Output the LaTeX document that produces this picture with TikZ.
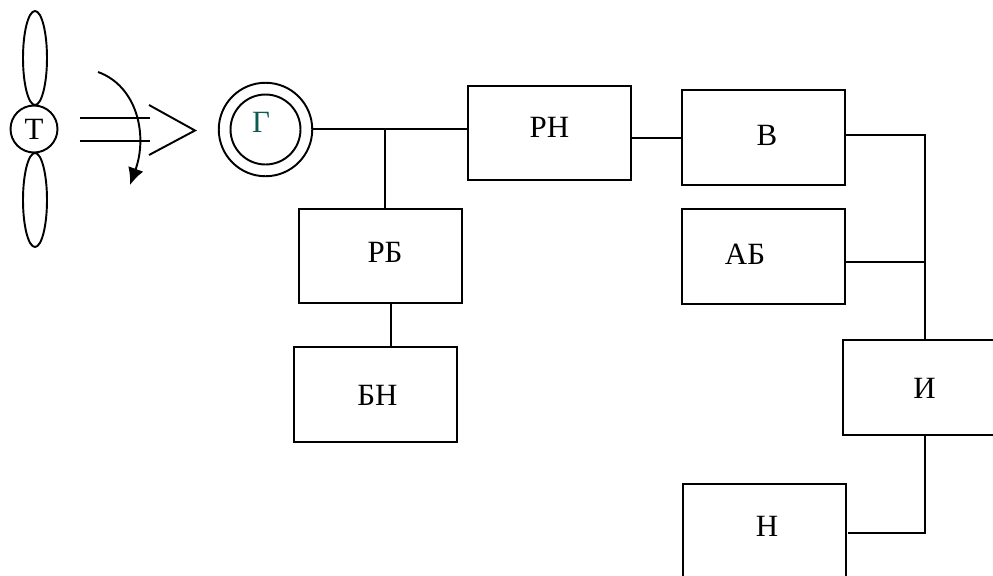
\documentclass[tikz,border=0pt]{standalone}
\usepackage{fontspec}
\setmainfont{Liberation Serif}
\usetikzlibrary{arrows.meta,positioning,calc,shapes.geometric}
\tikzset{>=latex}
\definecolor{gencol}{HTML}{0F5A50}

\begin{document}
\begin{tikzpicture}[x=0.02cm, y=-0.02cm, line width=1.1pt, on grid,
	font=\fontsize{17.6}{20}\selectfont,
	block/.style={draw, inner sep=0pt, minimum width=3.26cm, minimum height=1.89cm},
	blade/.style={draw, ellipse, inner sep=0pt, minimum width=0.48cm, minimum height=1.88cm},
	ring/.style={draw, circle, inner sep=0pt}]
	\path[use as bounding box, clip] (0,0) rectangle (993,575);

	\node[ring, minimum size=0.94cm] (t) at (34,129) {Т};
	\node[blade] (b1) [above right=1.42cm and 0.02cm of t] {};
	\node[blade] (b2) [below right=1.42cm and 0.02cm of t] {};
	\node[ring, minimum size=1.87cm] (g) at (265.5,129.5) {};
	\node[ring, minimum size=1.4cm, label={[xshift=-0.09cm,yshift=0.14cm,text=gencol]center:Г}] (g1) at (265.5,129.5) {};

	\node[block, label={[yshift=0.12cm]center:РН}] (rn) at (549.5,133) {};
	\node[block, label={[xshift=0.07cm,yshift=0.05cm]center:В}] (v) [below right=0.09cm and 4.28cm of rn] {};
	\node[block, label={[xshift=-0.37cm,yshift=0.05cm]center:АБ}] (ab) [below=2.38cm of v] {};
	\node[block, label={[xshift=0.09cm,yshift=0.08cm]center:РБ}] (rb) at (380.5,256) {};
	\node[block, label={[xshift=0.04cm,yshift=-0.02cm]center:БН}] (bn) [below left=2.77cm and 0.1cm of rb] {};
	\node[block, label={[yshift=-0.02cm]center:И}] (i) at (924.5,387.5) {};
	\node[block, label={[xshift=0.05cm,yshift=0.1cm]center:Н}] (n) at (764.5,531.5) {};

	% wind
	\coordinate (w1) at (79.5,118);
	\coordinate (w2) at (150,118);
	\coordinate (w3) at (79.5,141);
	\coordinate (w4) at (150,141);
	\coordinate (c1) at (149,105);
	\coordinate (c2) at (195,130.5);
	\coordinate (c3) at (149,155);
	\coordinate (r1) at (98,72);
	\coordinate (r2) at (130,185);
	\draw (w1) -- (w2);
	\draw (w3) -- (w4);
	\draw (c1) -- (c2) -- (c3);
	\draw[-{Latex[length=0.34cm,width=0.32cm]}] (r1) .. controls (137,86) and (148,135) .. (r2);

	% bus
	\coordinate (j1) at (385,129);
	\coordinate (j2) at (925,135);
	\coordinate (j3) at (925,262);
	\coordinate (j4) at (925,533);
	\coordinate (j5) at (848,533);
	\draw (g.east |- j1) -- (j1 -| rn.west);
	\draw (j1) -- (j1 |- rb.north);
	\draw (rn.east |- 0,138) -- (v.west |- 0,138);
	\draw ($(rb.south)+(10.5,0)$) -- ($(rb.south)+(10.5,44)$);
	\draw (v.east |- j2) -- (j2) -- (j2 |- i.north);
	\draw (ab.east |- j3) -- (j3);
	\draw (j2 |- i.south) -- (j4) -- (j5);
\end{tikzpicture}
\end{document}
